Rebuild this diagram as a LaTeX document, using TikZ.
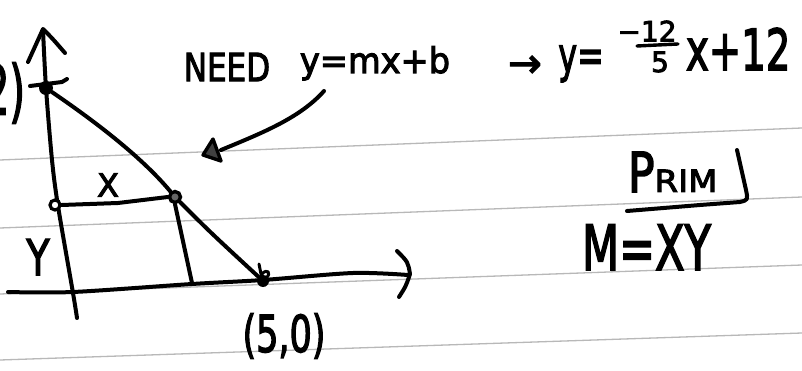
\documentclass[tikz,border=0pt]{standalone}
\usepackage{fontspec}
\setmainfont{DejaVu Sans}
\newfontfamily\hand{DejaVu Sans}[FakeBold=3]
\usetikzlibrary{arrows.meta}
\begin{document}
\begin{tikzpicture}[x=1pt,y=-1pt,
  ink/.style={line width=4pt,line cap=round,line join=round,black},
  rule/.style={line width=1.3pt,black!28},
  lbl/.style={inner sep=0pt,outer sep=0pt,text=black},
  bigdot/.style={circle,fill=black,inner sep=0pt,minimum size=14pt},
  opendot/.style={circle,draw=black,line width=3.2pt,fill=white,inner sep=0pt,minimum size=10pt},
  middot/.style={circle,draw=black,line width=3.4pt,fill=black!60,inner sep=0pt,minimum size=11pt}]
\useasboundingbox[fill=white] (0,0) rectangle (802,371);
% ruled paper lines
\draw[rule] (0,160) -- (802,128);
\draw[rule] (0,228) -- (802,197);
\draw[rule] (0,294) -- (802,265);
\draw[rule] (0,360) -- (802,333);
% coordinates
\coordinate (ytop) at (43,30);
\coordinate (ybot) at (77,318);
\coordinate (xleft) at (8,292);
\coordinate (xright) at (408,275);
\coordinate (foot) at (192,283);
% axes
\draw[ink] plot[smooth] coordinates {(ybot) (73,293) (58,206) (52,160) (46,88) (ytop)};
\draw[ink] (28,62) .. controls (35,46) .. (43,29) .. controls (52,38) .. (65,53);
\draw[ink] plot[smooth] coordinates {(xleft) (73,292) (192,284) (263,280) (353,273) (xright)};
\draw[ink] (397,251) .. controls (408,262) .. (410,274) .. controls (406,286) .. (399,297);
% points
\node[bigdot] (A) at (46,88) {};
\node[bigdot,minimum size=12pt] (B) at (263,281) {};
\node[opendot] (P) at (55,205) {};
\node[middot] (C) at (175,197) {};
\draw[ink] (30,86) -- (62,82) -- (67,79);
\draw[ink,line width=3pt] (259,264) -- (262,279);
\draw[ink,line width=3pt] (262,274) .. controls (267,268) and (272,273) .. (266,278);
% hypotenuse
\draw[ink] (A) .. controls (90,118) and (140,155) .. (C) .. controls (210,232) .. (B);
% rectangle sides
\draw[ink] (P.east) -- (118,203) -- (C.west);
\draw[ink] (C.south) -- (foot);
% labels on the graph
\node[lbl,font=\hand\fontsize{32}{32}\selectfont] (lx) at (108,185) {X};
\node[lbl,font=\hand\fontsize{38}{38}\selectfont] (ly) at (38,257) {\scalebox{1}[1.3]{Y}};
\node[lbl,font=\hand\fontsize{35}{35}\selectfont] (l50) at (284,336) {\scalebox{1}[1.45]{(5,0)}};
\node[lbl,font=\hand\fontsize{40}{40}\selectfont,anchor=east] (l012) at (25,93) {\scalebox{1}[1.7]{2)}};
% equation text
\node[lbl,font=\hand\fontsize{31}{31}\selectfont] (need) at (227,67) {\scalebox{1}[1.25]{NEED}};
\node[lbl,font=\hand\fontsize{32}{32}\selectfont,anchor=base] (eq1) at (375,73) {\scalebox{1.05}[1.1]{y=mx+b}};
\node[lbl,font=\hand\fontsize{40}{40}\selectfont,anchor=base] (arr) at (525,77) {→};
\node[lbl,font=\hand\fontsize{44}{44}\selectfont,anchor=base] (yeq) at (581,72) {\scalebox{0.72}[1.1]{y=}};
\node[lbl,font=\hand\fontsize{28}{28}\selectfont] (num) at (647,31) {−12};
\node[lbl,font=\hand\fontsize{28}{28}\selectfont] (den) at (660,62) {5};
\draw[ink,line width=3.4pt] (637,46) -- (678,44);
\node[lbl,font=\hand\fontsize{42}{42}\selectfont,anchor=base west] (rest) at (686,70) {\scalebox{0.92}[1.35]{x+12}};
% curved arrow
\coordinate (tail) at (324,91);
\coordinate (head) at (221,150);
\draw[ink] (tail) .. controls (300,118) and (262,133) .. (head);
\draw[ink,line width=3.4pt,fill=black!75] (213,139) -- (203,155) -- (221,161) -- cycle;
% PRIM and M=XY
\node[lbl,anchor=base west] (prim) at (628,192) {{\hand\fontsize{44}{44}\selectfont\scalebox{1}[1.25]{P}}{\hand\fontsize{34}{34}\selectfont\scalebox{1}[0.9]{RIM}}};
\draw[ink] (627,211) -- (700,205) -- (740,202) .. controls (748,200) .. (746,190) -- (737,150);
\node[lbl,font=\hand\fontsize{43}{43}\selectfont,anchor=base west] (mxy) at (582,270) {\scalebox{1}[1.45]{M=XY}};
\end{tikzpicture}
\end{document}
